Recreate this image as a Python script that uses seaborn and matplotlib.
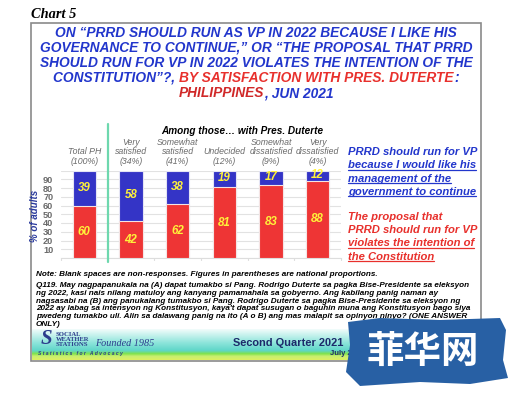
import matplotlib
matplotlib.use("Agg")
import matplotlib.pyplot as plt
import matplotlib.transforms as mtransforms
from matplotlib.lines import Line2D
from matplotlib.patches import Rectangle, Polygon
from matplotlib.colors import LinearSegmentedColormap
import seaborn as sns
import numpy as np
import pandas as pd

# ---------------- data ----------------
categories = ["Total PH", "Very satisfied", "Somewhat satisfied", "Undecided",
              "Somewhat dissatisfied", "Very dissatisfied"]
category_labels = ["Total PH\n(100%)", "Very\nsatisfied\n(34%)", "Somewhat\nsatisfied\n(41%)",
                   "Undecided\n(12%)", "Somewhat\ndissatisfied\n(9%)", "Very\ndissatisfied\n(4%)"]
should_run_vp = [39, 58, 38, 19, 17, 12]      # blue
violates_constitution = [60, 42, 62, 81, 83, 88]  # red
y_ticks = [0, 10, 20, 30, 40, 50, 60, 70, 80, 90, 100]
y_tick_labels = ["", "10", "20", "30", "40", "50", "60", "70", "80", "90", ""]

BLUE = "#3434C6"
RED = "#EE3535"
TBLUE = "#2236CC"
TRED = "#E8302C"
YELLOW = "#FFF23A"

W, H = 513, 396
sns.set_theme(style="white")
plt.rcParams['font.family'] = ['Liberation Sans', 'DejaVu Sans']

fig = plt.figure(figsize=(W / 100, H / 100), dpi=100)
fig.patch.set_facecolor("white")


def fx(x):
    return x / W


def fy(y):
    return 1 - y / H


renderer = fig.canvas.get_renderer()


def txt(x, y, s, **kw):
    return fig.text(fx(x), fy(y), s, **kw)


def width_of(t):
    return t.get_window_extent(renderer).width


def mixed_line(xc, y, pieces, **kw):
    ts = []
    for s, c in pieces:
        t = txt(0, y, s, color=c, ha="left", va="baseline", **kw)
        ts.append(t)
    widths = [width_of(t) for t in ts]
    total = sum(widths)
    x = xc - total / 2
    for t, w in zip(ts, widths):
        t.set_x(fx(x))
        x += w


def underline(t, color, lw=0.9):
    bb = t.get_window_extent(renderer)
    yb = bb.y0 + 0.6
    fig.add_artist(Line2D([bb.x0 / W, bb.x1 / W], [yb / H, yb / H], color=color, lw=lw,
                          transform=fig.transFigure))


# ---------------- frame ----------------
fig.add_artist(Rectangle((fx(31), fy(361)), (481 - 31) / W, (361 - 23) / H, fill=False,
                         edgecolor="#8a8a8a", lw=1.2, transform=fig.transFigure, zorder=1))

txt(31, 18, "Chart 5", family=["Liberation Serif", "DejaVu Serif"], fontsize=10.4,
    fontweight="bold", fontstyle="italic", color="black", ha="left", va="baseline")

# ---------------- title ----------------
tkw = dict(fontsize=9.9, fontweight="bold", fontstyle="italic")
mixed_line(256, 37, [("ON \u201cPRRD SHOULD RUN AS VP IN 2022 BECAUSE I LIKE HIS", TBLUE)], **tkw)
mixed_line(256, 52, [("GOVERNANCE TO CONTINUE,\u201d OR \u201cTHE PROPOSAL THAT PRRD", TBLUE)], **tkw)
mixed_line(256, 67, [("SHOULD RUN FOR VP IN 2022 VIOLATES THE INTENTION OF THE", TBLUE)], **tkw)
mixed_line(256, 82, [("CONSTITUTION\u201d?, ", TBLUE), ("BY SATISFACTION WITH PRES. DUTERTE", TRED),
                     (":", TBLUE)], **tkw)
mixed_line(256, 97, [("PHILIPPINES", "#D02828"), (", JUN 2021", TBLUE)], **tkw)

# ---------------- chart ----------------
ax = fig.add_axes([fx(61), fy(258), (341 - 61) / W, (258 - 170.5) / H])
df = pd.DataFrame({"category": categories,
                   "should": should_run_vp,
                   "violates": violates_constitution})
df["total"] = df["should"] + df["violates"]

sns.barplot(data=df, x="category", y="total", color=BLUE, saturation=1, width=0.5,
            edgecolor="#E4E4F4", linewidth=0.8, ax=ax, zorder=3)
sns.barplot(data=df, x="category", y="violates", color=RED, saturation=1, width=0.5,
            edgecolor="#F4E4E4", linewidth=0.8, ax=ax, zorder=4)

ax.set_xlim(-0.5, len(categories) - 0.5)
ax.set_ylim(0, 100)
ax.set_yticks(y_ticks)
ax.set_yticklabels(y_tick_labels)
ax.set_xticks(range(len(categories)))
ax.set_xticklabels([])
ax.set_xlabel("")
ax.set_ylabel("")
ax.tick_params(axis="y", length=0, pad=5.5, labelsize=6.6, labelcolor="#6a6a6a")
ax.tick_params(axis="x", length=0)
for lab in ax.get_yticklabels():
    lab.set_fontweight("bold")
ax.yaxis.grid(True, color="#E2E2E2", lw=0.8, zorder=0)
for s in ["top", "right", "left"]:
    ax.spines[s].set_visible(False)
ax.spines["bottom"].set_color("#DDDDDD")
ax.spines["bottom"].set_linewidth(0.8)

for b in np.arange(-0.5, len(categories), 1.0):
    ax.plot([b, b], [0, -2.5], color="#DDDDDD", lw=0.8, clip_on=False, zorder=2)

# green separator
ax.axvline(0.5, ymin=-0.05, ymax=1.53, color="#6ED8AE", lw=1.6, clip_on=False, zorder=5)

# value labels
vkw = dict(fontsize=8.3, fontweight="bold", fontstyle="italic", color=YELLOW,
           ha="center", va="center", zorder=6)
for i, (b, r) in enumerate(zip(should_run_vp, violates_constitution)):
    ax.text(i, r / 2, str(r), **vkw)
    ax.text(i, r + b / 2 + 0.5, str(b), **vkw)

# category labels above bars
blend = mtransforms.blended_transform_factory(ax.transData, fig.transFigure)
for i, lab in enumerate(category_labels):
    ax.text(i, fy(166), lab, transform=blend, ha="center", va="bottom", fontsize=6.3,
            fontstyle="italic", color="#6a6a6a", linespacing=1.1)
txt(242, 133.5, "Among those\u2026 with Pres. Duterte", ha="center",
    va="baseline", fontsize=7.2, fontweight="bold", fontstyle="italic", color="black")

txt(35, 216, "% of adults", rotation=90, ha="center", va="center", fontsize=7,
    fontweight="bold", fontstyle="italic", color="#2A3A9C")

# ---------------- legend text ----------------
lkw = dict(fontsize=8.1, fontweight="bold", fontstyle="italic", ha="left", va="baseline")
blue_lines = ["PRRD should run for VP", "because I would like his", "management of the",
              "government to continue"]
red_lines = ["The proposal that", "PRRD should run for VP", "violates the intention of",
             "the Constitution"]
for k, (s, yb) in enumerate(zip(blue_lines, [155, 168.3, 181.6, 195])):
    t = txt(348, yb, s, color=TBLUE, **lkw)
    if k > 0:
        underline(t, TBLUE)
for k, (s, yb) in enumerate(zip(red_lines, [220, 233, 246.3, 259.5])):
    t = txt(348, yb, s, color=TRED, **lkw)
    if k > 1:
        underline(t, TRED)

# ---------------- notes ----------------
nkw = dict(fontsize=5.9, fontweight="bold", fontstyle="italic", color="black",
           ha="left", va="baseline")
txt(36, 276, "Note: Blank spaces are non-responses. Figures in parentheses are national proportions.", **nkw)
q_lines = [
    "Q119. May nagpapanukala na (A) dapat tumakbo si Pang. Rodrigo Duterte sa pagka Bise-Presidente sa eleksyon",
    "ng 2022, kasi nais nilang matuloy ang kanyang pamamahala sa gobyerno. Ang kabilang panig naman ay",
    "nagsasabi na (B) ang panukalang tumakbo si Pang. Rodrigo Duterte sa pagka Bise-Presidente sa eleksyon ng",
    "2022 ay labag sa intensyon ng Konstitusyon, kaya't dapat susugan o baguhin muna ang Konstitusyon bago siya",
    "pwedeng tumakbo uli. Alin sa dalawang panig na ito (A o B) ang mas malapit sa opinyon ninyo? (ONE ANSWER",
    "ONLY)",
]
for s, yb in zip(q_lines, [287, 294.8, 302.6, 310.4, 318.2, 326]):
    txt(36, yb, s, **nkw)

# ---------------- bottom banner ----------------
bax = fig.add_axes([fx(32), fy(360), (480 - 32) / W, (360 - 329) / H])
grad = np.linspace(0, 1, 100).reshape(-1, 1)
cmap = LinearSegmentedColormap.from_list("band", [
    (0.0, "#DDF060"), (0.12, "#C8EE70"), (0.2, "#7FE24A"), (0.3, "#5ED6C8"),
    (0.55, "#8BE4DA"), (1.0, "#F2FCFB")])
bax.imshow(grad, aspect="auto", cmap=cmap, origin="lower", extent=[0, 1, 0, 1])
bax.set_axis_off()

txt(46, 349.5, "S", fontsize=15, fontweight="bold", fontstyle="italic", color="#2C3C8C",
    family=["Liberation Serif", "DejaVu Serif"], ha="center", va="bottom")
skw = dict(fontsize=4.8, fontweight="bold", color="#2C3C8C",
           family=["Liberation Serif", "DejaVu Serif"], ha="left", va="baseline")
txt(56, 335.5, "SOCIAL", **skw)
txt(56, 341, "WEATHER", **skw)
txt(56, 346.5, "STATIONS", **skw)
txt(95, 346.5, "Founded 1985", fontsize=7.3, fontstyle="italic", color="#2C3C8C",
    family=["Liberation Serif", "DejaVu Serif"], ha="left", va="baseline")
txt(38, 355, "S t a t i s t i c s   f o r   A d v o c a c y", fontsize=3.6, fontweight="bold",
    fontstyle="italic", color="#2C3C8C", ha="left", va="baseline")
txt(233, 345.5, "Second Quarter 2021", fontsize=7.9, fontweight="bold", color="#1C2A6A",
    ha="left", va="baseline")
txt(330, 355, "July 2021", fontsize=5.5, fontweight="bold", color="#1C2A6A",
    ha="left", va="baseline")

# ---------------- watermark ----------------
wm = [(348, 322), (380, 318), (440, 320), (500, 318), (506, 330), (503, 360), (508, 378),
      (470, 384), (420, 382), (360, 386), (346, 372), (350, 345)]
fig.add_artist(Polygon([(fx(x), fy(y)) for x, y in wm], closed=True, facecolor="#2860A4",
                       edgecolor="none", transform=fig.transFigure, zorder=10))
txt(423, 351, "菲华网", fontsize=27, fontweight="bold", color="white",
    family=["Noto Sans CJK SC", "DejaVu Sans"], ha="center", va="center", zorder=11)

fig.savefig("out.png", dpi=100, facecolor="white")
